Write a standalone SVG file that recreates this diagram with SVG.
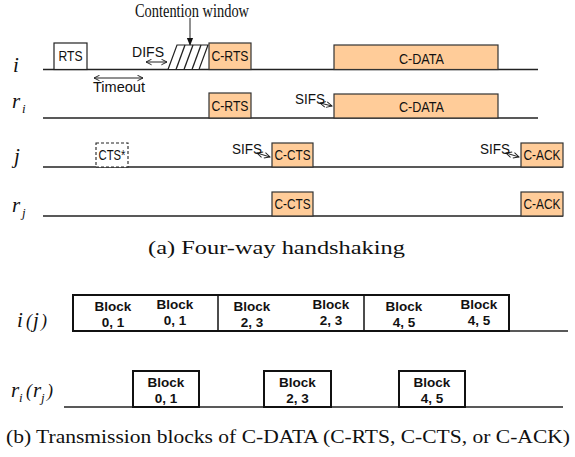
<svg xmlns="http://www.w3.org/2000/svg" width="575" height="457" viewBox="0 0 575 457">
<style>
.ln{stroke:#222;stroke-width:1.3;fill:none}
.bx{fill:#fff;stroke:#222;stroke-width:1.2}
.ob{fill:#FFCC99;stroke:#333;stroke-width:1.2}
.st{font-family:"Liberation Sans",Arial,sans-serif;font-size:14px;fill:#111}
.lb{font-family:"Liberation Serif","Times New Roman",serif;font-style:italic;font-size:21px;fill:#111}
.sub{font-family:"Liberation Serif","Times New Roman",serif;font-style:italic;font-size:13px;fill:#111}
.cap{font-family:"Liberation Serif","Times New Roman",serif;font-size:18px;fill:#111}
.blk{font-family:"Liberation Sans",Arial,sans-serif;font-weight:bold;font-size:13.5px;fill:#111;text-anchor:middle}
.bb{fill:#fff;stroke:#111;stroke-width:2}
.ar{stroke:#222;stroke-width:1;fill:none}
</style>
<defs>
<marker id="oa" viewBox="0 0 10 10" refX="9" refY="5" markerWidth="7" markerHeight="7" orient="auto-start-reverse" markerUnits="userSpaceOnUse"><path d="M1,1 L9,5 L1,9" fill="none" stroke="#222" stroke-width="1.4"/></marker>
<marker id="fa" viewBox="0 0 10 10" refX="9" refY="5" markerWidth="8" markerHeight="8" orient="auto" markerUnits="userSpaceOnUse"><path d="M0,1 L10,5 L0,9 z" fill="#111"/></marker>
</defs>

<g id="labels">
<text class="lb" x="13" y="72">i</text>
<text class="lb" x="12" y="108">r</text><text class="sub" x="22" y="113">i</text>
<text class="lb" x="14" y="163">j</text>
<text class="lb" x="12" y="212">r</text><text class="sub" x="22" y="217">j</text>
</g>

<g id="connectors">
<line class="ln" x1="43" y1="69.5" x2="538" y2="69.5"/>
<line class="ln" x1="43" y1="118" x2="538" y2="118"/>
<line class="ln" x1="43" y1="167" x2="563" y2="167"/>
<line class="ln" x1="43" y1="216" x2="563" y2="216"/>
<line class="ar" x1="190" y1="18" x2="190" y2="45" marker-end="url(#fa)"/>
<line class="ar" x1="146" y1="62" x2="167" y2="62" marker-start="url(#oa)" marker-end="url(#oa)"/>
<line class="ar" x1="94" y1="78" x2="143" y2="78" marker-start="url(#oa)" marker-end="url(#oa)"/>
<line class="ar" x1="320" y1="103" x2="332" y2="106" marker-start="url(#oa)" marker-end="url(#oa)"/>
<line class="ar" x1="257" y1="153" x2="270" y2="157" marker-start="url(#oa)" marker-end="url(#oa)"/>
<line class="ar" x1="506" y1="153" x2="519" y2="157" marker-start="url(#oa)" marker-end="url(#oa)"/>
</g>

<g id="contention">
<text class="cap" x="192" y="17" text-anchor="middle" font-size="13" textLength="114" lengthAdjust="spacingAndGlyphs">Contention window</text>
<polygon points="168,69.5 177,45 208,45 199,69.5" fill="#fff" stroke="#222" stroke-width="1.2"/>
<line class="ln" x1="176" y1="69.5" x2="185" y2="45"/>
<line class="ln" x1="184" y1="69.5" x2="193" y2="45"/>
<line class="ln" x1="192" y1="69.5" x2="201" y2="45"/>
</g>

<g id="texts-a">
<text class="st" x="132" y="57" textLength="32" lengthAdjust="spacingAndGlyphs">DIFS</text>
<text class="st" x="93" y="92" textLength="52" lengthAdjust="spacingAndGlyphs">Timeout</text>
<text class="st" x="295" y="104" textLength="30" lengthAdjust="spacingAndGlyphs">SIFS</text>
<text class="st" x="232" y="154" textLength="30" lengthAdjust="spacingAndGlyphs">SIFS</text>
<text class="st" x="480" y="154" textLength="30" lengthAdjust="spacingAndGlyphs">SIFS</text>
</g>

<g id="rts"><rect class="bx" x="54" y="43" width="33" height="26.5"/><text class="st" x="70.5" y="61" text-anchor="middle" textLength="24" lengthAdjust="spacingAndGlyphs">RTS</text></g>
<g id="crts-i"><rect class="ob" x="209" y="43" width="42" height="26.5"/><text class="st" x="230" y="61" text-anchor="middle" textLength="37" lengthAdjust="spacingAndGlyphs">C-RTS</text></g>
<g id="cdata-i"><rect class="ob" x="334" y="45" width="164" height="24.5"/><text class="st" x="421.5" y="64" text-anchor="middle" textLength="45" lengthAdjust="spacingAndGlyphs">C-DATA</text></g>
<g id="crts-ri"><rect class="ob" x="209" y="93" width="42" height="25"/><text class="st" x="230" y="111" text-anchor="middle" textLength="37" lengthAdjust="spacingAndGlyphs">C-RTS</text></g>
<g id="cdata-ri"><rect class="ob" x="334" y="94" width="164" height="24"/><text class="st" x="421.5" y="112" text-anchor="middle" textLength="45" lengthAdjust="spacingAndGlyphs">C-DATA</text></g>
<g id="cts-star"><rect x="96" y="143" width="32" height="24" fill="#fff" stroke="#222" stroke-width="1.1" stroke-dasharray="3,2"/><text class="st" x="112" y="160" text-anchor="middle" textLength="27" lengthAdjust="spacingAndGlyphs">CTS*</text></g>
<g id="ccts-j"><rect class="ob" x="272" y="143" width="41" height="24"/><text class="st" x="292.5" y="160" text-anchor="middle" textLength="36" lengthAdjust="spacingAndGlyphs">C-CTS</text></g>
<g id="cack-j"><rect class="ob" x="521" y="143" width="42" height="24"/><text class="st" x="542" y="160" text-anchor="middle" textLength="37" lengthAdjust="spacingAndGlyphs">C-ACK</text></g>
<g id="ccts-rj"><rect class="ob" x="272" y="192" width="41" height="24"/><text class="st" x="292.5" y="209" text-anchor="middle" textLength="36" lengthAdjust="spacingAndGlyphs">C-CTS</text></g>
<g id="cack-rj"><rect class="ob" x="521" y="192" width="42" height="24"/><text class="st" x="542" y="209" text-anchor="middle" textLength="37" lengthAdjust="spacingAndGlyphs">C-ACK</text></g>

<text class="cap" x="276.5" y="254" text-anchor="middle" textLength="257" lengthAdjust="spacingAndGlyphs">(a)  Four-way handshaking</text>

<g id="part-b-labels">
<text class="lb" x="17" y="327" font-size="20">i</text>
<text class="cap" x="26" y="327" font-size="20" font-style="italic">(</text><text class="lb" x="33" y="327" font-size="20">j</text><text class="cap" x="41" y="327" font-size="20" font-style="italic">)</text>
<text class="lb" x="11" y="397" font-size="20">r</text><text class="sub" x="19" y="402">i</text>
<text class="cap" x="26" y="397" font-size="20" font-style="italic">(</text><text class="lb" x="33" y="397" font-size="20">r</text><text class="sub" x="41" y="402">j</text><text class="cap" x="47" y="397" font-size="20" font-style="italic">)</text>
</g>

<g id="row-ij">
<line class="ln" x1="509" y1="331" x2="568" y2="331"/>
<rect class="bb" x="73" y="295" width="436" height="36"/>
<line x1="218" y1="295" x2="218" y2="331" stroke="#111" stroke-width="1.5"/>
<line x1="364" y1="295" x2="364" y2="331" stroke="#111" stroke-width="1.5"/>
<text class="blk" x="113" y="311">Block<tspan x="113" dy="15.5">0, 1</tspan></text>
<text class="blk" x="175" y="309">Block<tspan x="175" dy="15.5">0, 1</tspan></text>
<text class="blk" x="252" y="311">Block<tspan x="252" dy="15.5">2, 3</tspan></text>
<text class="blk" x="331" y="309">Block<tspan x="331" dy="15.5">2, 3</tspan></text>
<text class="blk" x="404" y="311">Block<tspan x="404" dy="15.5">4, 5</tspan></text>
<text class="blk" x="479" y="309">Block<tspan x="479" dy="15.5">4, 5</tspan></text>
</g>

<g id="row-rirj">
<line class="ln" x1="64" y1="407" x2="563" y2="407"/>
<rect class="bb" x="133" y="371" width="66" height="36"/>
<text class="blk" x="166" y="387">Block<tspan x="166" dy="15.5">0, 1</tspan></text>
<rect class="bb" x="264" y="371" width="67" height="36"/>
<text class="blk" x="297.5" y="387">Block<tspan x="297.5" dy="15.5">2, 3</tspan></text>
<rect class="bb" x="399" y="371" width="66" height="36"/>
<text class="blk" x="432" y="387">Block<tspan x="432" dy="15.5">4, 5</tspan></text>
</g>

<text class="cap" x="288" y="443" text-anchor="middle" textLength="564" lengthAdjust="spacingAndGlyphs">(b) Transmission blocks of C-DATA (C-RTS, C-CTS, or C-ACK)</text>
</svg>
